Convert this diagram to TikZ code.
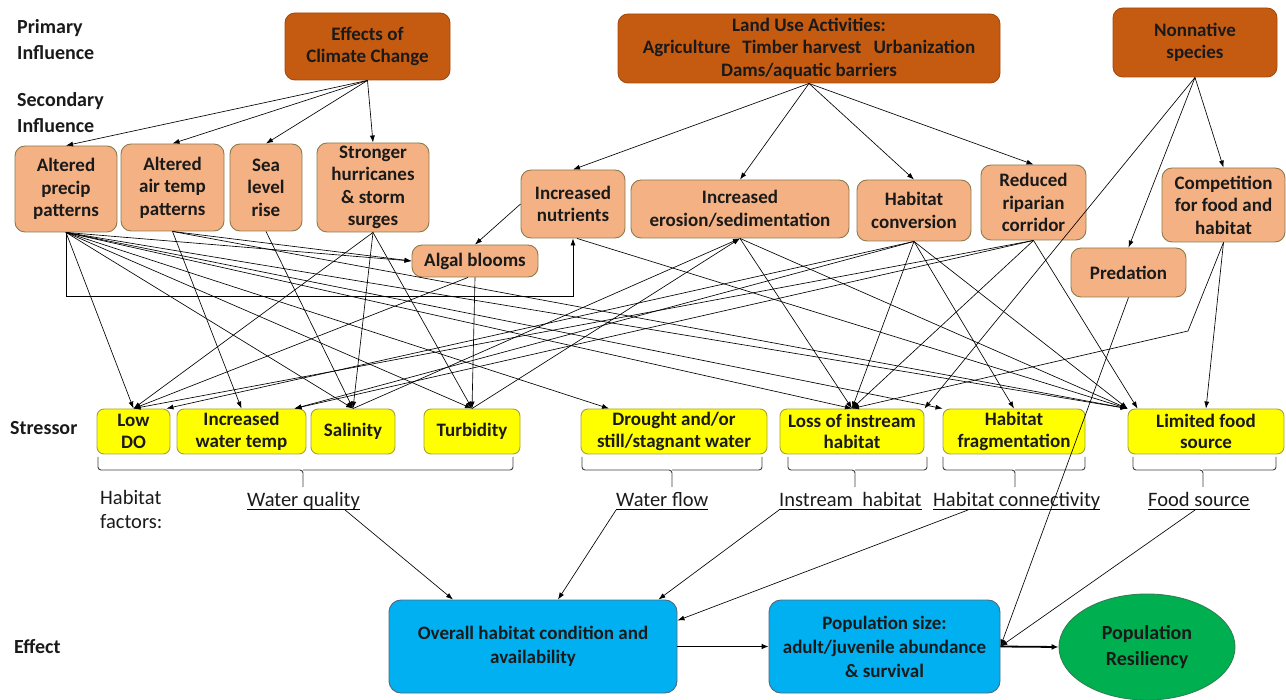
\documentclass[tikz,border=0pt]{standalone}
\usepackage{fontspec}
\setmainfont{Carlito}
\usetikzlibrary{arrows.meta,shapes.geometric,calc}
\definecolor{primfill}{HTML}{C55A11}
\definecolor{primline}{HTML}{A34A0E}
\definecolor{secfill}{HTML}{F4B183}
\definecolor{secline}{HTML}{8C7B4E}
\definecolor{strfill}{HTML}{FFFF00}
\definecolor{strline}{HTML}{A3A33C}
\definecolor{efffill}{HTML}{00B0F0}
\definecolor{effline}{HTML}{4D6A80}
\definecolor{resfill}{HTML}{00B050}
\definecolor{resline}{HTML}{2F7F4F}
\definecolor{txt}{HTML}{1A1A1A}
\tikzset{
  boxbase/.style={rounded corners=10pt, align=center, inner sep=1pt, line width=0.9pt, text=txt, font=\bfseries\fontsize{19}{22.5}\selectfont},
  primbox/.style={boxbase, fill=primfill, draw=primline},
  secbox/.style={boxbase, fill=secfill, draw=secline},
  strbox/.style={boxbase, fill=strfill, draw=strline, rounded corners=7pt, font=\bfseries\fontsize{19}{21.5}\selectfont},
  effbox/.style={boxbase, fill=efffill, draw=effline, rounded corners=12pt, font=\bfseries\fontsize{19}{24}\selectfont},
  resbox/.style={ellipse, fill=resfill, draw=resline, line width=0.9pt, align=center, text=txt, font=\bfseries\fontsize{20}{26}\selectfont},
  rowlabel/.style={anchor=west, align=left, inner sep=0pt, text=txt, font=\bfseries\fontsize{20}{26}\selectfont},
  factor/.style={anchor=base west, inner sep=0pt, text=txt, font=\fontsize{20.5}{24}\selectfont},
  arr/.style={-{Latex[length=7pt,width=5pt]}, line width=0.65pt},
  thickarr/.style={-{Latex[length=7pt,width=6pt]}, line width=1.8pt},
  bracket/.style={line width=0.9pt, draw=black!75, rounded corners=3pt},
  uline/.style={line width=0.9pt},
}
\begin{document}
\begin{tikzpicture}[x=1pt,y=-1pt]
\useasboundingbox (0,0) rectangle (1286,700);
% row labels
\node[rowlabel] (lprim) at (17,40) {Primary\\Influence};
\node[rowlabel] (lsec) at (17,113) {Secondary\\Influence};
\node[rowlabel] (lstr) at (10,428) {Stressor};
\node[rowlabel] (leff) at (14,647) {Effect};
\node[anchor=north west, align=left, inner sep=0pt, text=txt, font=\fontsize{20.5}{24}\selectfont] (lhab) at (100,490) {Habitat\\factors:};
% primary
\node[primbox, minimum width=165pt, minimum height=67pt] (climate) at (367.5,46.5) {Effects of\\Climate Change};
\node[primbox, minimum width=382pt, minimum height=69pt] (landuse) at (809,48.5) {Land Use Activities:\\Agriculture\hspace{12pt}Timber harvest\hspace{12pt}Urbanization\\Dams/aquatic barriers};
\node[primbox, minimum width=164pt, minimum height=69pt] (nonnative) at (1195,42.5) {Nonnative\\species};
% secondary
\node[secbox, minimum width=102pt, minimum height=86pt] (precip) at (66,189) {Altered\\precip\\patterns};
\node[secbox, minimum width=103pt, minimum height=87pt] (airtemp) at (172.5,187.5) {Altered\\air temp\\patterns};
\node[secbox, minimum width=72pt, minimum height=87pt] (sealevel) at (266,187.5) {Sea\\level\\rise};
\node[secbox, minimum width=112pt, minimum height=89pt] (hurricane) at (373,187.5) {Stronger\\hurricanes\\\& storm\\surges};
\node[secbox, minimum width=126pt, minimum height=32pt] (algal) at (475,261) {Algal blooms};
\node[secbox, minimum width=104pt, minimum height=68pt] (nutrients) at (573,204) {Increased\\nutrients};
\node[secbox, minimum width=218pt, minimum height=58pt] (erosion) at (740,209) {Increased\\erosion/sedimentation};
\node[secbox, minimum width=114pt, minimum height=61pt] (habconv) at (914,210.5) {Habitat\\conversion};
\node[secbox, minimum width=105pt, minimum height=75pt] (riparian) at (1033.5,202.5) {Reduced\\riparian\\corridor};
\node[secbox, minimum width=115pt, minimum height=49pt] (predation) at (1128.5,272.5) {Predation};
\node[secbox, minimum width=123pt, minimum height=74pt] (competition) at (1223.5,205) {Competition\\for food and\\habitat};
% stressors
\node[strbox, minimum width=73pt, minimum height=45pt] (lowdo) at (133.5,431.5) {Low\\DO};
\node[strbox, minimum width=129pt, minimum height=45pt] (wtemp) at (241.5,431.5) {Increased\\water temp};
\node[strbox, minimum width=84pt, minimum height=45pt] (salinity) at (353,431.5) {Salinity};
\node[strbox, minimum width=96pt, minimum height=45pt] (turbidity) at (472,431.5) {Turbidity};
\node[strbox, minimum width=186pt, minimum height=45pt] (drought) at (674,431.5) {Drought and/or\\still/stagnant water};
\node[strbox, minimum width=144pt, minimum height=45pt] (instream) at (852,431.5) {Loss of instream\\habitat};
\node[strbox, minimum width=142pt, minimum height=45pt] (fragment) at (1014,431.5) {Habitat\\fragmentation};
\node[strbox, minimum width=156pt, minimum height=45pt] (food) at (1206,431.5) {Limited food\\source};
% effects
\node[effbox, minimum width=288pt, minimum height=93pt] (overall) at (533,646.5) {Overall habitat condition and\\availability};
\node[effbox, minimum width=231pt, minimum height=93pt] (popsize) at (884.5,646.5) {Population size:\\adult/juvenile abundance\\\& survival};
\node[resbox, minimum width=176pt, minimum height=106pt] (resil) at (1147,647) {Population\\Resiliency};
% habitat factor labels
\node[factor] (fwq) at (247,507) {Water quality};
\node[factor] (fflow) at (616,507) {Water flow};
\node[factor] (finst) at (779,507) {Instream\ \ habitat};
\node[factor] (fconn) at (933,507) {Habitat connectivity};
\node[factor] (ffood) at (1148,507) {Food source};
\foreach \n in {fwq,fflow,finst,fconn,ffood}
  \draw[uline] ([yshift=-2.5pt]\n.base west) -- ([yshift=-2.5pt]\n.base east);
% brackets
\foreach \a/\m/\b in {98/303/513, 582/672/762, 788/855/927, 943/1015/1085, 1133/1203/1276}{
  \draw[bracket] (\a,457) -- (\a,470) -- (\m,470) -- (\m,487);
  \draw[bracket] (\b,457) -- (\b,470) -- (\m,470);
}
% primary -> secondary
\foreach \t in {precip,airtemp,sealevel,hurricane}
  \draw[arr] (climate.south) -- (\t.north);
\foreach \t in {nutrients,erosion,habconv,riparian}
  \draw[arr] (landuse.south) -- (\t.north);
\draw[arr] (nonnative.south) -- (predation.north);
\draw[arr] (nonnative.south) -- (competition.north);
\draw[arr] (nonnative.south) -- (instream.north east);
% precip
\draw[arr] (precip.south) -- (lowdo.north);
\draw[arr] (precip.south) -- (algal.west);
\draw[arr] (precip.south) -- ++(0,64) -| (nutrients.south);
\draw[arr] (precip.south) -- (salinity.north);
\draw[arr] (precip.south) -- (turbidity.north);
\draw[arr] (precip.south) -- ([xshift=-65pt]drought.north);
\draw[arr] (precip.south) -- (instream.north);
\draw[arr] (precip.south) -- (fragment.north west);
\draw[arr] (precip.south) -- (food.north west);
% air temp
\draw[arr] (airtemp.south) -- (wtemp.north);
\draw[arr] (airtemp.south) -- (algal.west);
\draw[arr] (airtemp.south) -- (food.north west);
% sea level
\draw[arr] (sealevel.south) -- (salinity.north);
% hurricanes
\draw[arr] (hurricane.south) -- (lowdo.north);
\draw[arr] (hurricane.south) -- (salinity.north);
\draw[arr] (hurricane.south) -- (turbidity.north);
% algal
\draw[arr] (algal.south) -- (turbidity.north);
\draw[arr] ([xshift=-7pt]algal.south) -- (lowdo.north);
% nutrients
\draw[arr] (nutrients.west) -- (algal.north);
\draw[arr] ([xshift=4pt]nutrients.south) -- (food.north west);
% erosion
\draw[arr] (erosion.south) -- (instream.north);
\draw[arr] (erosion.south) -- (food.north west);
\draw[arr] (salinity.north) -- (erosion.south);
\draw[arr] (turbidity.north) -- (erosion.south);
% habitat conversion
\draw[arr] (habconv.south) -- ([xshift=-4pt]lowdo.north east);
\draw[arr] (habconv.south) -- ([xshift=-12pt]wtemp.north east);
\draw[arr] (habconv.south) -- (instream.north);
\draw[arr] (habconv.south) -- (fragment.north);
\draw[arr] (habconv.south) -- (food.north west);
% riparian
\draw[arr] (riparian.south) -- (lowdo.north);
\draw[arr] (riparian.south) -- ([xshift=-12pt]wtemp.north east);
\draw[arr] (riparian.south) -- (instream.north);
\draw[arr] (riparian.south) -- ([xshift=10pt]food.north west);
% competition
\draw[arr] (competition.south) -- (food.north);
\coordinate (cbend) at (1188,331);
\draw[arr] (competition.south) -- (cbend) -- (instream.north);
% predation
\draw[arr] (predation.south) -- (popsize.east);
% factors -> effects
\draw[arr] ([xshift=-15pt,yshift=-3pt]fwq.base east) -- ([xshift=-80pt]overall.north);
\draw[arr] ([yshift=-3pt]fflow.base west) -- ([xshift=25pt]overall.north);
\draw[arr] ([yshift=-3pt]finst.base west) -- ([xshift=-19pt]overall.north east);
\draw[arr] ([xshift=35pt,yshift=-3pt]fconn.base west) -- ([yshift=26pt]overall.east);
\draw[arr] ([xshift=47pt,yshift=-3pt]ffood.base west) -- (popsize.east);
% effect chain
\draw[thickarr] (overall.east) -- (popsize.west);
\draw[thickarr] (popsize.east) -- (resil.west);
\end{tikzpicture}
\end{document}
